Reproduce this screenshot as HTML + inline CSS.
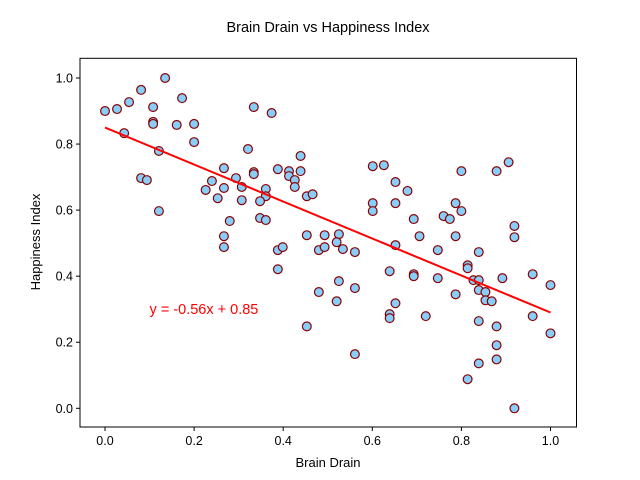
<!DOCTYPE html>
<html><head><meta charset="utf-8"><style>
body{margin:0;background:#fff;}
svg{display:block;font-family:"Liberation Sans","DejaVu Sans",sans-serif;}
</style></head><body>
<svg id="chart" width="640" height="480">
<rect width="640" height="480" fill="#fff"/>
<text x="328" y="32" font-size="14.5" text-anchor="middle">Brain Drain vs Happiness Index</text>
<g id="plot"></g>
<text x="328" y="467" font-size="13" text-anchor="middle">Brain Drain</text>
<text x="0" y="0" font-size="13" text-anchor="middle" transform="translate(40,242) rotate(-90)">Happiness Index</text>
</svg>
<script>
const xTicks=[0,0.2,0.4,0.6,0.8,1.0];
const yTicks=[0,0.2,0.4,0.6,0.8,1.0];
const tickLabels=["0.0","0.2","0.4","0.6","0.8","1.0"];
const brainDrain=[0.00,0.027,0.054,0.081,0.135,0.108,0.173,0.108,0.108,0.161,0.20,0.20,0.043,0.121,0.081,0.094,0.121,0.334,0.374,0.321,0.267,0.240,0.226,0.267,0.253,0.294,0.307,0.307,0.334,0.334,0.361,0.361,0.348,0.388,0.413,0.413,0.426,0.426,0.439,0.439,0.453,0.466,0.280,0.348,0.361,0.267,0.267,0.388,0.399,0.453,0.493,0.480,0.493,0.525,0.520,0.534,0.561,0.388,0.525,0.480,0.520,0.453,0.561,0.561,0.601,0.626,0.652,0.679,0.601,0.601,0.652,0.693,0.760,0.774,0.787,0.800,0.800,0.879,0.906,0.919,0.919,0.706,0.787,0.747,0.839,0.652,0.639,0.693,0.693,0.747,0.814,0.814,0.827,0.839,0.839,0.854,0.854,0.868,0.892,0.960,1.00,0.787,0.652,0.639,0.639,0.720,0.960,1.00,0.839,0.879,0.879,0.879,0.839,0.814,0.919];
const happiness=[0.90,0.906,0.927,0.964,1.00,0.912,0.939,0.867,0.861,0.858,0.861,0.806,0.833,0.779,0.697,0.691,0.597,0.912,0.894,0.785,0.727,0.688,0.661,0.667,0.636,0.697,0.670,0.630,0.715,0.709,0.664,0.642,0.627,0.724,0.718,0.703,0.691,0.670,0.764,0.718,0.642,0.648,0.567,0.576,0.570,0.521,0.488,0.479,0.488,0.524,0.524,0.479,0.488,0.527,0.503,0.482,0.473,0.421,0.385,0.352,0.324,0.248,0.364,0.164,0.733,0.736,0.685,0.658,0.621,0.597,0.621,0.573,0.582,0.573,0.621,0.597,0.718,0.718,0.745,0.552,0.518,0.521,0.521,0.479,0.473,0.494,0.415,0.406,0.400,0.394,0.433,0.424,0.388,0.388,0.358,0.352,0.327,0.324,0.394,0.406,0.373,0.345,0.318,0.285,0.273,0.279,0.279,0.227,0.264,0.248,0.191,0.148,0.136,0.088,0.00];
const slope=-0.56, intercept=0.85;
const eqLabel="y = -0.56x + 0.85";

const NS="http://www.w3.org/2000/svg";
const L=80,R=576.5,T=58.3,B=427;
const sx=v=>105+445.5*v;
const sy=v=>408.3-330.3*v;
const plot=document.getElementById('plot');
function mk(tag,attrs,parent){const e=document.createElementNS(NS,tag);for(const k in attrs)e.setAttribute(k,attrs[k]);(parent||plot).appendChild(e);return e;}

const pts=mk('g',{});


for(let i=0;i<brainDrain.length;i++){
  const c=mk('circle',{cx:sx(brainDrain[i]),cy:sy(happiness[i]),r:4.4,fill:'#87cefa',stroke:'#8b0000','stroke-width':1.2},pts);
  
  
}
const xmin=Math.min(...brainDrain),xmax=Math.max(...brainDrain);
const ln=mk('line',{x1:sx(xmin),y1:sy(slope*xmin+intercept),x2:sx(xmax),y2:sy(slope*xmax+intercept),stroke:'#ff0000','stroke-width':2});


const eq=mk('text',{x:sx(0.1),y:sy(0.3)+5,'font-size':14.5,fill:'#ff0000'});
eq.textContent=eqLabel;



const frame=mk('rect',{x:L,y:T,width:R-L,height:B-T,fill:'none',stroke:'#000','stroke-width':1});


xTicks.forEach((v,i)=>{
  const t=mk('line',{x1:sx(v),x2:sx(v),y1:B,y2:B+4,stroke:'#000'});
  
  
  const l=mk('text',{x:sx(v),y:B+18,'font-size':12.5,'text-anchor':'middle'});
  l.textContent=tickLabels[i];
  
  
});
yTicks.forEach((v,i)=>{
  const t=mk('line',{x1:L-4,x2:L,y1:sy(v),y2:sy(v),stroke:'#000'});
  
  
  const l=mk('text',{x:L-7,y:sy(v)+4.5,'font-size':12.5,'text-anchor':'end'});
  l.textContent=tickLabels[i];
  
  
});
</script>
</body></html>
